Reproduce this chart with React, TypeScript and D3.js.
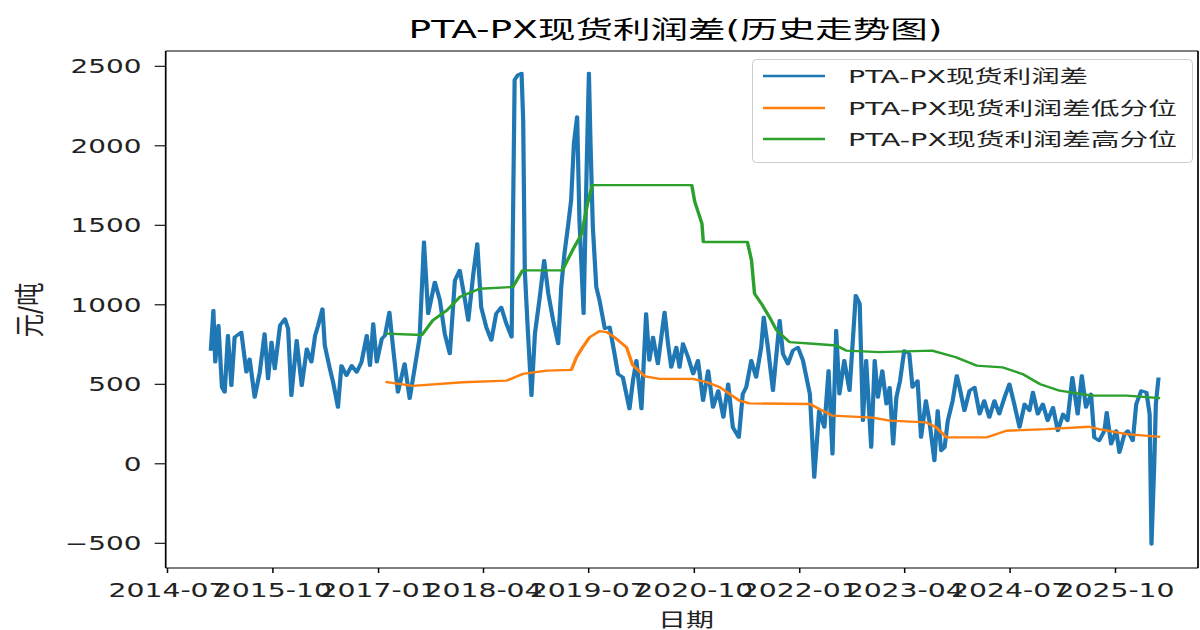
import React from "react";
import * as d3 from "d3";

// ---------- data ----------
const profitDates = [
  "2015-01-05","2015-01-16","2015-01-24","2015-02-07","2015-02-22","2015-03-06","2015-03-20","2015-04-04","2015-04-18","2015-05-17",
  "2015-06-08","2015-06-22","2015-07-14","2015-08-05","2015-08-26","2015-09-10","2015-09-25","2015-10-09","2015-11-01","2015-11-22",
  "2015-12-06","2015-12-20","2016-01-12","2016-02-03","2016-02-25","2016-03-16","2016-04-01","2016-04-14","2016-05-03","2016-05-13",
  "2016-06-04","2016-06-18","2016-07-09","2016-07-24","2016-08-15","2016-09-07","2016-09-28","2016-10-19","2016-11-11","2016-11-25",
  "2016-12-09","2016-12-24","2017-01-15","2017-01-29","2017-02-17","2017-03-04","2017-03-26",
  "2017-04-24","2017-05-16","2017-06-07","2017-06-28","2017-07-17","2017-08-04",
  "2017-09-02","2017-09-24","2017-10-15","2017-11-06","2017-11-28","2017-12-19","2018-01-11","2018-01-25","2018-02-16","2018-03-05",
  "2018-03-22","2018-04-13","2018-05-05","2018-05-26","2018-06-17","2018-07-09","2018-08-01","2018-08-14","2018-08-28","2018-09-13",
  "2018-09-20","2018-09-27","2018-10-11","2018-10-26","2018-11-10","2018-12-01","2018-12-20","2019-01-07","2019-01-28","2019-02-19",
  "2019-03-04","2019-03-18","2019-04-02","2019-04-16","2019-04-28","2019-05-12","2019-05-22","2019-06-09","2019-06-23","2019-07-02",
  "2019-07-09","2019-07-19","2019-08-03","2019-08-17","2019-09-09","2019-09-30","2019-10-21","2019-11-05","2019-11-26","2019-12-25",
  "2020-01-09","2020-01-24","2020-02-15","2020-03-06","2020-03-20","2020-04-05","2020-04-26","2020-05-25","2020-06-09","2020-06-23",
  "2020-07-15","2020-07-29","2020-08-13","2020-09-04","2020-09-26","2020-10-17","2020-11-08","2020-11-30","2020-12-21","2021-01-13",
  "2021-02-04","2021-02-25","2021-03-17","2021-04-12","2021-04-29","2021-05-14","2021-06-05","2021-06-26","2021-07-18","2021-07-29",
  "2021-08-16","2021-09-07","2021-10-06","2021-10-20","2021-11-11","2021-12-02","2021-12-24","2022-01-15","2022-02-14","2022-03-05",
  "2022-03-26","2022-04-18","2022-05-06","2022-05-23","2022-06-08","2022-06-22","2022-07-13","2022-08-05","2022-09-01","2022-09-18",
  "2022-10-02","2022-10-16","2022-11-07","2022-11-22","2022-12-06","2022-12-25","2023-01-12","2023-01-26","2023-02-10","2023-02-24",
  "2023-03-12","2023-03-30","2023-04-21","2023-05-05","2023-05-27","2023-06-11","2023-07-02","2023-07-17","2023-08-08","2023-08-22",
  "2023-09-06","2023-09-21","2023-10-05","2023-10-26","2023-11-13","2023-11-25","2023-12-16","2024-01-07","2024-01-29","2024-02-20",
  "2024-03-11","2024-04-02","2024-04-24","2024-05-15","2024-06-07","2024-06-28","2024-07-19","2024-08-11","2024-09-02","2024-09-23",
  "2024-10-08","2024-10-29","2024-11-20","2024-12-11","2025-01-03","2025-01-24","2025-02-16","2025-03-07","2025-03-28","2025-04-20",
  "2025-05-08","2025-05-26","2025-06-17","2025-07-01","2025-07-22","2025-08-14","2025-08-24","2025-09-12","2025-10-04","2025-10-18",
  "2025-11-09","2025-11-23","2025-12-15","2025-12-30","2026-01-21","2026-02-12","2026-02-26","2026-03-06","2026-03-18","2026-03-25",
  "2026-04-05"
];
const profitValues = [
  720,965,639,870,481,450,807,492,796,828,
  576,660,418,576,818,534,765,597,870,912,
  849,429,776,492,723,639,807,870,975,744,
  597,513,355,618,555,618,576,639,807,618,
  881,639,786,807,954,744,450,
  630,410,605,794,1395,944,
  1143,1028,818,692,1154,1217,1028,902,1196,1385,
  985,860,776,944,985,881,796,2415,2446,2457,
  2163,1217,818,429,818,1049,1280,1070,902,755,
  1112,1322,1490,1658,2016,2183,1532,944,1910,2457,
  2016,1490,1112,1028,850,860,692,565,544,345,
  523,650,345,944,650,796,628,954,755,607,
  733,607,755,670,565,650,397,586,355,460,
  292,502,229,166,439,481,650,544,733,922,
  733,460,902,692,628,712,733,650,439,-86,
  334,229,586,61,839,439,650,460,1059,1007,
  271,650,103,650,418,586,376,481,124,418,
  523,712,692,481,523,166,397,271,19,334,
  82,103,271,397,555,481,334,460,481,313,
  397,292,397,313,418,502,376,229,376,334,
  450,313,376,271,355,208,313,271,544,313,
  555,355,439,166,145,208,324,124,208,71,
  187,208,145,376,460,450,313,-506,-2,376,
  534
];

const lowDates = [
  "2017-02-07","2017-05-29","2018-01-02","2018-07-10","2018-09-18","2019-01-01","2019-04-17","2019-05-09","2019-06-05","2019-07-05",
  "2019-08-17","2019-09-17","2019-10-21","2019-12-12","2020-01-08","2020-03-01","2020-05-04","2020-09-25","2020-11-25","2021-01-20",
  "2021-03-03","2021-04-15","2021-05-28","2022-02-14","2022-03-26","2022-05-22","2022-11-13","2023-01-26","2023-07-03","2023-08-15",
  "2023-09-29","2024-03-20","2024-06-15","2024-12-06","2025-06-09","2025-07-22","2025-11-18","2026-04-05"
];
const lowValues = [
  513,490,513,523,565,586,591,670,733,796,
  834,828,796,733,620,550,534,534,513,481,
  439,397,380,376,345,303,290,271,261,230,
  166,166,208,218,233,218,187,170
];

const highDates = [
  "2017-02-07","2017-07-08","2017-08-24","2017-10-24","2017-12-19","2018-03-15","2018-08-06","2018-09-18","2019-03-09","2019-04-22",
  "2019-06-01","2019-06-26","2019-07-17","2020-09-20","2020-10-03","2020-11-03","2020-11-09","2021-05-19","2021-06-06","2021-06-19",
  "2021-07-19","2021-08-23","2021-09-23","2021-11-18","2022-02-27","2022-06-09","2022-07-22","2022-12-13","2023-07-29","2023-11-09",
  "2024-02-06","2024-05-28","2024-08-23","2024-11-06","2025-02-01","2025-06-22","2025-11-18","2026-04-05"
];
const highValues = [
  818,810,902,965,1049,1101,1112,1217,1217,1343,
  1448,1637,1753,1753,1648,1511,1395,1395,1280,1070,
  1007,922,839,765,755,744,712,702,712,670,
  618,607,565,502,460,429,429,414
];

const yTicks = [-500, 0, 500, 1000, 1500, 2000, 2500];
const xTickDates = [
  "2014-07-01","2015-10-01","2017-01-01","2018-04-01","2019-07-01",
  "2020-10-01","2022-01-01","2023-04-01","2024-07-01","2025-10-01"
];

const seriesNames = ["PTA-PX现货利润差", "PTA-PX现货利润差低分位", "PTA-PX现货利润差高分位"];
const seriesColors = ["#1f77b4", "#ff7f0e", "#2ca02c"];
const titleText = "PTA-PX现货利润差(历史走势图)";
const xLabel = "日期";
const yLabel = "元/吨";

// ---------- layout ----------
const W = 1200;
const H = 630;
const frame = { left: 165.7, right: 1198, top: 51, bottom: 568 };
const SX = 1.5; // horizontal stretch of the picture
const FONT = "'DejaVu Sans', 'Noto Sans CJK SC', sans-serif";

const parse = d3.timeParse("%Y-%m-%d");
const fmt = d3.timeFormat("%Y-%m");

export default function App() {
  const x = d3
    .scaleTime()
    .domain([parse("2014-07-01")!, parse("2025-10-01")!])
    .range([167.5, 1115.5]);
  const xi = x.copy().range([167.5 / SX, 1115.5 / SX]);
  const y = d3.scaleLinear().domain([-500, 2500]).range([543.3, 66.3]);

  const mk = (ds: string[], vs: number[]) =>
    ds.map((d, i) => [parse(d)!, vs[i]] as [Date, number]);
  const series = [
    mk(profitDates, profitValues),
    mk(lowDates, lowValues),
    mk(highDates, highValues),
  ];
  const line = d3
    .line<[Date, number]>()
    .x((d) => xi(d[0]))
    .y((d) => y(d[1]));

  const legendRows = [76, 108, 139];
  const legendWidths = [240, 329, 329];

  return (
    <svg
      width={W}
      height={H}
      style={{ position: "absolute", left: 0, top: 0, background: "#fff" }}
      fontFamily={FONT}
    >
      <rect x={0} y={0} width={W} height={H} fill="#fff" />
      {/* title */}
      <text x={675.5} y={38} fontSize={24} textAnchor="middle" textLength={534} lengthAdjust="spacingAndGlyphs" fill="#000">
        {titleText}
      </text>

      {/* series: blue, orange, green (green on top) */}
      <g transform={`scale(${SX},1)`}>
        {[0, 1, 2].map((i) => (
          <path
            key={i}
            d={line(series[i]) || ""}
            fill="none"
            stroke={seriesColors[i]}
            strokeWidth={i === 0 ? 2.8 : 2.3}
            strokeLinejoin="round"
            strokeLinecap="square"
          />
        ))}
      </g>

      {/* spines */}
      <line x1={frame.left} x2={frame.right} y1={frame.top} y2={frame.top} stroke="#000" strokeWidth={1.2} />
      <line x1={frame.left} x2={frame.right} y1={frame.bottom} y2={frame.bottom} stroke="#000" strokeWidth={1.2} />
      <line x1={frame.left} x2={frame.left} y1={frame.top} y2={frame.bottom} stroke="#000" strokeWidth={1.7} />
      <line x1={frame.right} x2={frame.right} y1={frame.top} y2={frame.bottom} stroke="#000" strokeWidth={1.7} />

      {/* y ticks */}
      {yTicks.map((t) => (
        <g key={t}>
          <line x1={frame.left - 11} x2={frame.left} y1={y(t)} y2={y(t)} stroke="#000" strokeWidth={1.1} />
          <text
            transform={`translate(141.5,${y(t)}) scale(1.47,1)`}
            dy="0.36em"
            fontSize={19}
            textAnchor="end"
            fill="#222"
          >
            {t < 0 ? "\u2212" + Math.abs(t) : String(t)}
          </text>
        </g>
      ))}

      {/* x ticks */}
      {xTickDates.map((s) => {
        const d = parse(s)!;
        const px = x(d);
        return (
          <g key={s}>
            <line x1={px} x2={px} y1={frame.bottom} y2={frame.bottom + 5} stroke="#000" strokeWidth={1.5} />
            <text
              transform={`translate(${px},597) scale(1.45,1)`}
              fontSize={19.5}
              textAnchor="middle"
              fill="#222"
            >
              {fmt(d)}
            </text>
          </g>
        );
      })}

      {/* axis labels */}
      <text x={686} y={627} fontSize={19} textAnchor="middle" textLength={56} lengthAdjust="spacingAndGlyphs" fill="#222">
        {xLabel}
      </text>
      <g transform={`translate(29,310) scale(1.5,1) rotate(-90)`}>
        <text x={0} y={0} dy="0.36em" fontSize={20} textAnchor="middle" textLength={55} lengthAdjust="spacingAndGlyphs" fill="#222">
          {yLabel}
        </text>
      </g>

      {/* legend */}
      <rect x={752.5} y={59.5} width={440} height={103} rx={4} fill="#fff" fillOpacity={0.8} stroke="#cccccc" strokeWidth={1} />
      {seriesNames.map((n, i) => (
        <g key={n}>
          <line x1={763} x2={825} y1={legendRows[i]} y2={legendRows[i]} stroke={seriesColors[i]} strokeWidth={2.3} />
          <text
            x={848}
            y={legendRows[i] + 7}
            fontSize={18}
            textLength={legendWidths[i]}
            lengthAdjust="spacingAndGlyphs"
            fill="#222"
          >
            {n}
          </text>
        </g>
      ))}
    </svg>
  );
}
